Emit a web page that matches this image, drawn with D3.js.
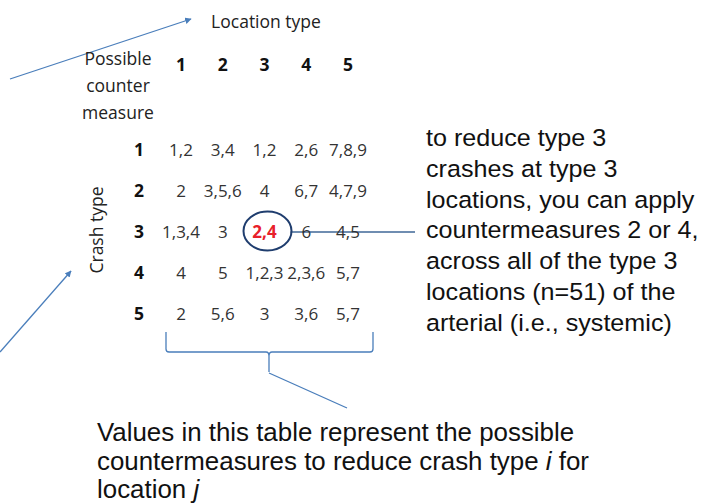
<!DOCTYPE html>
<html><head><meta charset="utf-8">
<script src="https://cdn.jsdelivr.net/npm/d3@7"></script>
<style>body{margin:0;background:#fff}svg{display:block}</style>
</head><body>
<script>
const locationTypes = [1, 2, 3, 4, 5];
const crashTypes = [1, 2, 3, 4, 5];
const countermeasures = [
  ["1,2", "3,4", "1,2", "2,6", "7,8,9"],
  ["2", "3,5,6", "4", "6,7", "4,7,9"],
  ["1,3,4", "3", "2,4", "6", "4,5"],
  ["4", "5", "1,2,3", "2,3,6", "5,7"],
  ["2", "5,6", "3", "3,6", "5,7"]
];
const highlight = {crash: 3, location: 3};
const noteLines = ["to reduce type 3", "crashes at type 3", "locations, you can apply",
  "countermeasures 2 or 4,", "across all of the type 3", "locations (n=51) of the",
  "arterial (i.e., systemic)"];

const W = 708, H = 504;
const svg = d3.select("body").append("svg").attr("width", W).attr("height", H);
const blue = "#4a7ebb";
const tableFont = "'Open Sans', Lato, sans-serif";
const noteFont = "'Liberation Sans', Arial, sans-serif";

svg.append("defs").append("marker").attr("id", "ah").attr("viewBox", "0 0 10 10")
  .attr("refX", 9).attr("refY", 5).attr("markerWidth", 5).attr("markerHeight", 5)
  .attr("orient", "auto").append("path").attr("d", "M0,0L10,5L0,10z").attr("fill", blue);

const x = d3.scalePoint().domain(locationTypes).range([181, 348]);
const y = d3.scalePoint().domain(crashTypes).range([150, 314]);

// arrows
svg.append("line").attr("x1", 10).attr("y1", 79).attr("x2", 191).attr("y2", 19)
  .attr("stroke", blue).attr("stroke-width", 1.3).attr("marker-end", "url(#ah)");
svg.append("line").attr("x1", 0).attr("y1", 352).attr("x2", 71).attr("y2", 271)
  .attr("stroke", blue).attr("stroke-width", 1.3).attr("marker-end", "url(#ah)");

// titles
svg.append("text").attr("x", 266).attr("y", 28).attr("text-anchor", "middle")
  .attr("font-family", tableFont).attr("font-size", 17.5).attr("fill", "#222").text("Location type");
const pcm = svg.append("text").attr("text-anchor", "middle").attr("font-family", tableFont)
  .attr("font-size", 17.5).attr("fill", "#222");
["Possible", "counter", "measure"].forEach((t, i) =>
  pcm.append("tspan").attr("x", 118).attr("y", 65 + i * 27).text(t));
svg.append("text").attr("transform", "translate(103,230) rotate(-90)").attr("text-anchor", "middle")
  .attr("font-family", tableFont).attr("font-size", 17.5).attr("fill", "#222").text("Crash type");

// headers
svg.selectAll(".colh").data(locationTypes).join("text")
  .attr("x", d => x(d)).attr("y", 71).attr("text-anchor", "middle")
  .attr("font-family", tableFont).attr("font-weight", "bold").attr("font-size", 17.5)
  .attr("fill", "#111").text(d => d);
svg.selectAll(".rowh").data(crashTypes).join("text")
  .attr("x", 139).attr("y", d => y(d) + 6).attr("text-anchor", "middle")
  .attr("font-family", tableFont).attr("font-weight", "bold").attr("font-size", 17.5)
  .attr("fill", "#111").text(d => d);

// connector line from circle
svg.append("line").attr("x1", x(highlight.location) + 26).attr("x2", 415)
  .attr("y1", y(highlight.crash) + 0).attr("y2", y(highlight.crash) + 0)
  .attr("stroke", "#3f6797").attr("stroke-width", 1.3);

// cells
const cells = [];
countermeasures.forEach((row, i) => row.forEach((v, j) =>
  cells.push({crash: crashTypes[i], loc: locationTypes[j], v})));
svg.selectAll(".cell").data(cells).join("text")
  .attr("x", d => x(d.loc)).attr("y", d => y(d.crash) + 6).attr("text-anchor", "middle")
  .attr("font-family", tableFont).attr("font-size", 17)
  .attr("font-weight", d => d.crash === highlight.crash && d.loc === highlight.location ? "bold" : "normal")
  .attr("fill", d => d.crash === highlight.crash && d.loc === highlight.location ? "#e8202a" : "#333")
  .text(d => d.v);

// circle
svg.append("ellipse").attr("cx", x(highlight.location) + 3).attr("cy", y(highlight.crash) - 1)
  .attr("rx", 24).attr("ry", 19.5).attr("fill", "none").attr("stroke", "#1f3d6e").attr("stroke-width", 2);

// brace
const bx0 = 166, bx1 = 373, bm = 269, bt = 332, bb = 352;
svg.append("path").attr("d",
  `M${bx0},${bt} L${bx0},${bb - 3} Q${bx0},${bb} ${bx0 + 3},${bb} L${bm - 3},${bb} Q${bm},${bb} ${bm},${bb + 4} L${bm},${bb + 20}
   M${bx1},${bt} L${bx1},${bb - 3} Q${bx1},${bb} ${bx1 - 3},${bb} L${bm + 3},${bb} Q${bm},${bb} ${bm},${bb + 4}
   M${bm},${bb + 21} L347,408`)
  .attr("fill", "none").attr("stroke", blue).attr("stroke-width", 1.3);

// note
const note = svg.append("text").attr("font-family", noteFont).attr("font-size", 23.5).attr("fill", "#111")
  .attr("transform", "translate(426,0) scale(1.07,1)");
noteLines.forEach((t, i) => note.append("tspan").attr("x", 0).attr("y", 146 + i * 30.8).text(t));

// bottom text
const bt2 = svg.append("text").attr("font-family", noteFont).attr("font-size", 25.5).attr("fill", "#111")
  .attr("transform", "translate(97,0) scale(1.015,1)");
bt2.append("tspan").attr("x", 0).attr("y", 441).text("Values in this table represent the possible");
const l2 = bt2.append("tspan").attr("x", 0).attr("y", 470);
l2.append("tspan").text("countermeasures to reduce crash type ");
l2.append("tspan").attr("font-style", "italic").text("i");
l2.append("tspan").text(" for");
const l3 = bt2.append("tspan").attr("x", 0).attr("y", 498);
l3.append("tspan").text("location ");
l3.append("tspan").attr("font-style", "italic").text("j");
</script>
</body></html>
